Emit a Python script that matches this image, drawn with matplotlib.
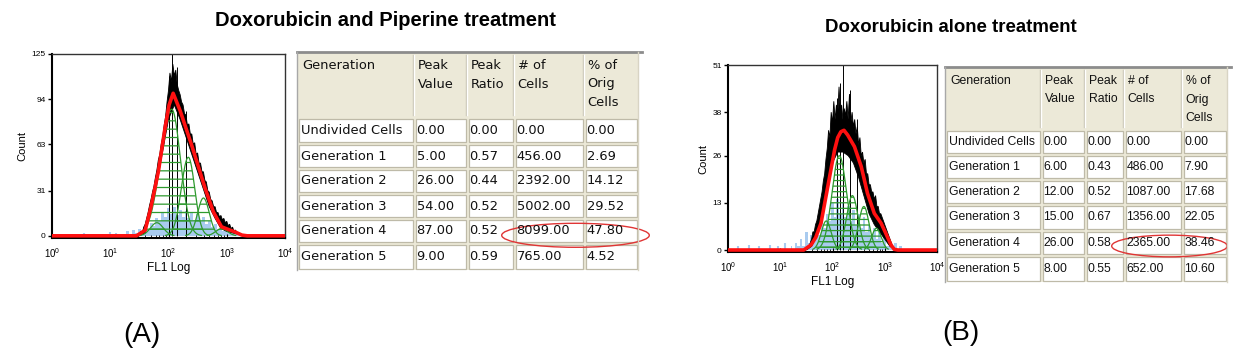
import matplotlib
matplotlib.use("Agg")
import matplotlib.pyplot as plt
import numpy as np
from matplotlib.patches import Rectangle, Ellipse

plt.rcParams["font.family"] = ["Liberation Sans", "DejaVu Sans"]
plt.rcParams["hatch.linewidth"] = 0.9

W, H = 1240, 351

# ---- table data ----
header = ["Generation", "Peak\nValue", "Peak\nRatio", "# of\nCells", "% of\nOrig\nCells"]
generations = ["Undivided Cells", "Generation 1", "Generation 2", "Generation 3",
               "Generation 4", "Generation 5"]

a_peak_value = [0, 5, 26, 54, 87, 9]
a_peak_ratio = [0.00, 0.57, 0.44, 0.52, 0.52, 0.59]
a_cells = [0, 456, 2392, 5002, 8099, 765]
a_pct = [0.00, 2.69, 14.12, 29.52, 47.80, 4.52]

b_peak_value = [0, 6, 12, 15, 26, 8]
b_peak_ratio = [0.00, 0.43, 0.52, 0.67, 0.58, 0.55]
b_cells = [0, 486, 1087, 1356, 2365, 652]
b_pct = [0.00, 7.90, 17.68, 22.05, 38.46, 10.60]

# ---- histogram data, x in log10(FL1) ----
# generation 1..5 peaks: position, width below / above peak (decades)
a_centers = [2.91, 2.60, 2.34, 2.055, 1.80]
a_sig_lo = [0.10, 0.10, 0.12, 0.19, 0.11]
a_sig_hi = [0.10, 0.10, 0.11, 0.15, 0.11]
b_centers = [2.84, 2.60, 2.38, 2.13, 1.88]
b_sig_lo = [0.09, 0.10, 0.11, 0.14, 0.095]
b_sig_hi = [0.09, 0.10, 0.11, 0.14, 0.095]

# red model fit line
a_fit_log = [0.0, 1.45, 1.60, 1.70, 1.825, 1.94, 2.01, 2.08, 2.20, 2.40, 2.63, 2.77,
             2.91, 3.05, 3.14, 3.26, 3.35, 4.0]
a_fit = [0, 0, 3.9, 20, 44, 74, 90, 98, 86, 62, 32.5, 16.5, 6.2, 4, 2.7, 0.5, 0, 0]
b_fit_log = [0.0, 1.45, 1.59, 1.68, 1.78, 1.91, 2.04, 2.10, 2.16, 2.22, 2.29, 2.42,
             2.55, 2.67, 2.80, 2.93, 3.02, 3.12, 3.18, 3.25, 4.0]
b_fit = [0, 0, 1.4, 3.5, 7.4, 17.5, 27.6, 31, 32.6, 33, 31.7, 28.5, 23, 15.6, 10.1,
         7.4, 4.6, 1.4, 0.2, 0, 0]

# black data histogram: jagged upper edge and lower edge of the dense trace
a_hi_start, b_hi_start, hi_step = 1.50, 1.55, 0.025
a_hi = [1, 3, 2, 6, 8, 12, 16, 21, 25, 30, 34, 40, 45, 52, 56, 63, 68, 76, 82, 92,
        100, 112, 106, 118, 110, 114, 104, 100, 97, 92, 90, 84, 83, 76, 77, 70, 70, 63,
        64, 56, 57, 50, 50, 44, 44, 38, 37, 31, 30, 25, 24, 20, 20, 16, 16, 13, 14, 11,
        12, 9, 10, 7, 8, 5, 6, 3, 4, 2, 2, 1, 1, 0, 0]
b_hi = [1, 2, 3, 5, 5, 7, 8, 10, 12, 14, 16, 19, 21, 25, 28, 33, 31, 38, 35, 41, 36,
        40, 37, 45, 38, 40, 36, 39, 37, 41, 36, 43, 35, 38, 34, 36, 32, 34, 29, 31, 26,
        27, 24, 25, 21, 21, 18, 18, 16, 16, 14, 15, 12, 12, 10, 10, 9, 8, 7, 6, 5, 4,
        3, 2, 1, 0, 0]
lo_start, lo_step = 1.50, 0.1
a_lo = [0, 2, 18, 36, 58, 80, 90, 80, 68, 56, 44, 32, 20, 12, 5, 3, 2, 1, 0]
b_lo = [0, 1, 4, 10, 17, 24, 27, 27, 26, 24, 20, 15, 10, 7, 5, 3, 1, 0]
a_spikes_log = [2.00, 2.06, 2.14, 2.30]
a_spikes = [110, 125, 116, 86]
b_spikes_log = [2.08, 2.14, 2.20, 2.33, 2.47]
b_spikes = [42, 46, 51, 44, 36]

# light blue debris
blue_start, blue_step = 1.20, 0.05
a_blue = [0, 1, 3, 1, 4, 2, 5, 3, 7, 5, 9, 7, 12, 10, 16, 13, 19, 15, 20, 14, 18, 13,
          17, 12, 16, 11, 15, 10, 13, 8, 10, 6, 8, 5, 6, 3, 5, 2, 3, 1, 2, 1, 1, 0, 0]
b_blue = [1, 0, 2, 1, 3, 1, 5, 2, 4, 3, 6, 4, 8, 6, 10, 8, 13, 9, 14, 10, 13, 9, 12, 8,
          11, 7, 10, 6, 9, 5, 7, 4, 6, 3, 5, 2, 4, 1, 2, 1, 2, 0, 1, 0, 0]
a_specks_log = [0.15, 0.35, 0.55, 0.7, 0.85, 1.0, 1.1]
a_specks = [1.5, 1, 2, 1.5, 1, 2.5, 2]
b_specks_log = [0.2, 0.4, 0.6, 0.8, 0.95, 1.1]
b_specks = [1, 1.5, 1, 1.5, 1, 2]

RED = "#FF1010"
GREEN = "#2E9A2E"
BLUE = "#A9CBEF"


def px_axes(fig, x0, y0, x1, y1):
    return fig.add_axes([x0 / W, 1 - y1 / H, (x1 - x0) / W, (y1 - y0) / H])


def draw_hist(ax, d, ymax, ymin, yticks, hatch):
    grid = np.linspace(0, 4, 1200)
    x = 10 ** grid

    bl = blue_start + blue_step * np.arange(len(d["blue"]))
    ax.fill_between(10 ** bl, 0, d["blue"], step="mid", color=BLUE, lw=0, zorder=1)
    ax.vlines(10 ** np.array(d["specks_log"]), 0, d["specks"], color=BLUE, lw=1.5, zorder=1)

    hx = d["hi_start"] + hi_step * np.arange(len(d["hi"]))
    lx = lo_start + lo_step * np.arange(len(d["lo"]))
    ax.fill(np.r_[10 ** hx, 10 ** lx[::-1]], np.r_[d["hi"], d["lo"][::-1]],
            facecolor="black", edgecolor="black", lw=0.6, zorder=2)
    ax.vlines(10 ** np.array(d["spikes_log"]), 0, d["spikes"], color="black", lw=0.7,
              zorder=2)

    for c, h, slo, shi in zip(d["centers"], d["heights"], d["sig_lo"], d["sig_hi"]):
        s = np.where(grid < c, slo, shi)
        y = h * np.exp(-0.5 * ((grid - c) / s) ** 2)
        m = y > 0.25
        ax.fill_between(x[m], 0, y[m], facecolor="none", edgecolor=GREEN,
                        hatch=hatch, lw=0, zorder=3)
        ax.plot(x[m], y[m], color=GREEN, lw=0.9, zorder=3)

    ax.plot(10 ** np.array(d["fit_log"]), d["fit"], color=RED, lw=2.6, zorder=4,
            solid_joinstyle="round")

    ax.set_xscale("log")
    ax.set_xlim(1, 1e4)
    ax.set_ylim(ymin, ymax)
    ax.set_yticks(yticks)
    ax.tick_params(axis="y", direction="out", length=3, width=1, labelsize=6, pad=1.5)
    ax.tick_params(axis="x", which="major", direction="in", length=3, labelsize=7, pad=6)
    ax.tick_params(axis="x", which="minor", direction="in", length=2)
    for s in ["left", "bottom"]:
        ax.spines[s].set_linewidth(1.5)
    for s in ["top", "right"]:
        ax.spines[s].set_linewidth(1.0)
        ax.spines[s].set_color("#333333")
    ax.set_ylabel("Count", fontsize=8, labelpad=3)
    ax.set_xlabel("FL1 Log", fontsize=8.5, labelpad=1)


def draw_table(ax, cols, rows, header_y, family, size, cols_data):
    x0, x1 = cols[0], cols[-1]
    y0, y1 = rows[0], rows[-1]
    ax.add_patch(Rectangle((x0, y0), x1 - x0, y1 - y0, facecolor="#ECE9D8",
                           edgecolor="none"))
    for c in cols[1:-1]:
        ax.plot([c - 1, c - 1], [y0 + 3, rows[1] - 2], color="#C7C3B2", lw=1)
        ax.plot([c, c], [y0 + 3, rows[1] - 2], color="white", lw=1)
    for i in range(1, len(rows) - 1):
        for j in range(len(cols) - 1):
            ax.add_patch(Rectangle((cols[j] + 1.5, rows[i] + 1.5),
                                   cols[j + 1] - cols[j] - 3, rows[i + 1] - rows[i] - 3,
                                   facecolor="white", edgecolor="#BEBAA8", lw=0.9))
    ax.plot([x0, x1 + 4], [y0, y0], color="#8C8C8C", lw=2)
    ax.plot([x0, x0], [y0, y1], color="#A8A8A8", lw=1)
    ax.plot([x1, x1], [y0, y1], color="#D8D4C4", lw=1)

    for j, h in enumerate(header):
        for k, line in enumerate(h.split("\n")):
            ax.text(cols[j] + (5 if j == 0 else 3.5), y0 + header_y + 18.5 * k, line,
                    ha="left", va="top", family=family, fontsize=size, color="#111111")
    for i in range(len(generations)):
        yc = (rows[i + 1] + rows[i + 2]) / 2 + 0.5
        for j, col in enumerate(cols_data):
            ax.text(cols[j] + (4 if j == 0 else 2.5), yc, col[i], ha="left",
                    va="center", family=family, fontsize=size, color="#111111")


fig = plt.figure(figsize=(W / 100, H / 100), dpi=100)

over = fig.add_axes([0, 0, 1, 1])
over.set_xlim(0, W)
over.set_ylim(H, 0)
over.axis("off")

hist_a = dict(blue=a_blue, specks_log=a_specks_log, specks=a_specks, hi_start=a_hi_start,
              hi=a_hi, lo=a_lo, spikes_log=a_spikes_log, spikes=a_spikes,
              centers=a_centers, heights=a_peak_value[1:], sig_lo=a_sig_lo,
              sig_hi=a_sig_hi, fit_log=a_fit_log, fit=a_fit)
hist_b = dict(blue=b_blue, specks_log=b_specks_log, specks=b_specks, hi_start=b_hi_start,
              hi=b_hi, lo=b_lo, spikes_log=b_spikes_log, spikes=b_spikes,
              centers=b_centers, heights=b_peak_value[1:], sig_lo=b_sig_lo,
              sig_hi=b_sig_hi, fit_log=b_fit_log, fit=b_fit)

ax_a = px_axes(fig, 52, 54, 285, 238)
draw_hist(ax_a, hist_a, 125, -1.5, [0, 31, 63, 94, 125], "--")

ax_b = px_axes(fig, 728, 65, 937, 252)
draw_hist(ax_b, hist_b, 51, -0.55, [0, 13, 26, 38, 51], "---")


def fmt(vals):
    return [f"{v:.2f}" for v in vals]


a_cols = [297, 414, 467, 514, 584, 638]
a_rows = [52, 117, 143, 168, 193, 218, 243, 270]
draw_table(over, a_cols, a_rows, 7, "DejaVu Sans", 9.4,
           [generations, fmt(a_peak_value), fmt(a_peak_ratio), fmt(a_cells), fmt(a_pct)])

b_cols = [945, 1041, 1085, 1124, 1182, 1227]
b_rows = [67, 129, 154, 179, 204, 230, 255, 282]
draw_table(over, b_cols, b_rows, 8, "Liberation Sans", 8.8,
           [generations, fmt(b_peak_value), fmt(b_peak_ratio), fmt(b_cells), fmt(b_pct)])

over.add_patch(Ellipse((575.5, 235.3), 147.6, 24, fill=False, edgecolor="#E03535", lw=1))
over.add_patch(Ellipse((1169.5, 246), 115.6, 21.7, fill=False, edgecolor="#E03535", lw=1))

over.text(385, 21, "Doxorubicin and Piperine treatment", ha="center", va="center",
          fontsize=14.5, fontweight="bold")
over.text(951, 28, "Doxorubicin alone treatment", ha="center", va="center",
          fontsize=13.4, fontweight="bold")
over.text(141.5, 335, "(A)", ha="center", va="center", fontsize=20)
over.text(961, 333, "(B)", ha="center", va="center", fontsize=20)

fig.savefig("out.png", dpi=100)
